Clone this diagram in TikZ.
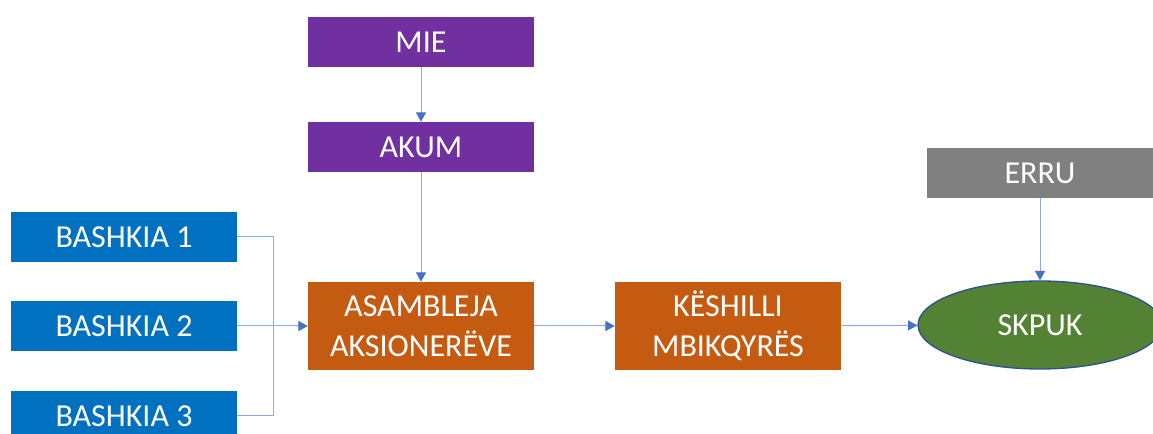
\documentclass[tikz,border=0pt]{standalone}
\usepackage{fontspec}
\setmainfont{Carlito}
\usetikzlibrary{arrows.meta,shapes.geometric}
\definecolor{bashkiablue}{HTML}{0070C0}
\definecolor{mievioleta}{HTML}{7030A0}
\definecolor{asmorange}{HTML}{C55A11}
\definecolor{errugrey}{HTML}{808080}
\definecolor{skpukgreen}{HTML}{548235}
\definecolor{skpukedge}{HTML}{2F528F}
\definecolor{linkline}{HTML}{8FAADC}
\definecolor{tipblue}{HTML}{4472C4}

\begin{document}
\begin{tikzpicture}[x=0.75pt,y=-0.75pt,
    box/.style={fill=#1, text=white, minimum width=169.5pt, minimum height=37.5pt,
        inner sep=0pt, align=center, font=\fontsize{24}{30}\selectfont},
    link/.style={draw=linkline, line width=0.75pt,
        -{Triangle[length=7pt,width=7.5pt,color=tipblue]}}]
\useasboundingbox (0,0) rectangle (1153,434);

% municipalities
\node[box=bashkiablue] (b1) at (124,237) {BASHKIA 1};
\node[box=bashkiablue] (b2) at (124,326) {BASHKIA 2};
\node[box=bashkiablue] (b3) at (124,416) {BASHKIA 3};

% ministry chain
\node[box=mievioleta] (mie) at (421,42) {MIE};
\node[box=mievioleta] (akum) at (421,147) {AKUM};

\node[box=asmorange, minimum height=66pt] (asm) at (421,326) {ASAMBLEJA\\AKSIONERËVE};
\node[box=asmorange, minimum height=66pt] (kesh) at (728,326) {KËSHILLI\\MBIKQYRËS};

\node[box=errugrey] (erru) at (1040,173) {ERRU};
\node[ellipse, fill=skpukgreen, draw=skpukedge, line width=1pt, text=white,
    minimum width=183pt, minimum height=66pt, inner sep=0pt,
    font=\fontsize{24}{30}\selectfont] (skpuk) at (1040,325) {SKPUK};

\coordinate (join) at (273,326);

\draw[draw=linkline, line width=0.75pt] (b1.east) -| (join) (b3.east) -| (join);
\draw[link] (b2.east) -- (asm.west);
\draw[link] (mie) -- (akum);
\draw[link] (akum) -- (asm);
\draw[link] (asm) -- (kesh);
\draw[link] (kesh) -- (skpuk);
\draw[link] (erru) -- (skpuk);
\end{tikzpicture}
\end{document}
